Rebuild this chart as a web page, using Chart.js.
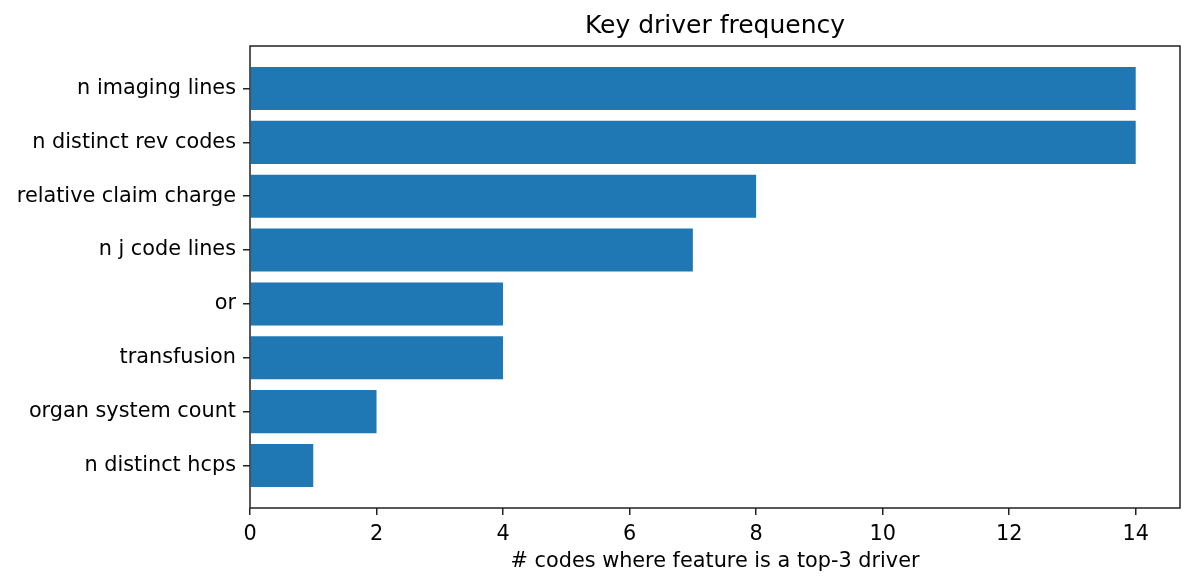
<!DOCTYPE html>
<html>
<head>
<meta charset="utf-8">
<script src="https://cdn.jsdelivr.net/npm/chart.js@4"></script>
<style>
  html, body { margin: 0; padding: 0; background: #fff; }
  #wrap { width: 1194px; height: 586px; }
</style>
</head>
<body>
<div id="wrap"><canvas id="chart" width="1194" height="586"></canvas></div>
<script>
// ===== Data =====
const categories = [
    'n imaging lines',
    'n distinct rev codes',
    'relative claim charge',
    'n j code lines',
    'or',
    'transfusion',
    'organ system count',
    'n distinct hcps'
];
const counts = [14, 14, 8, 7, 4, 4, 2, 1];
const xTicks = [0, 2, 4, 6, 8, 10, 12, 14];

const barColor = '#1f77b4';
const axisColor = '#222222';
const font = 'DejaVu Sans';
const titleText = 'Key driver frequency';

// box round the plot area (matplotlib spines) and the title centred over it
const frame = {
    id: 'frame',
    afterDatasetsDraw(chart) {
        const a = chart.chartArea;
        const ctx = chart.ctx;
        ctx.save();
        ctx.strokeStyle = axisColor;
        ctx.lineWidth = 1.5;
        ctx.strokeRect(a.left, a.top, a.right - a.left, a.bottom - a.top);
        ctx.fillStyle = '#000';
        ctx.font = '25px "' + font + '"';
        ctx.textAlign = 'center';
        ctx.textBaseline = 'middle';
        ctx.fillText(titleText, (a.left + a.right) / 2, 26);
        ctx.restore();
    }
};

new Chart(document.getElementById('chart'), {
    type: 'bar',
    data: {
        datasets: [{
            data: counts.map((v, i) => ({ x: v, y: i })),
            backgroundColor: barColor,
            borderWidth: 0,
            barPercentage: 0.8,
            categoryPercentage: 1.0
        }]
    },
    options: {
        indexAxis: 'y',
        responsive: false,
        animation: false,
        devicePixelRatio: 1,
        layout: { padding: { left: 0, right: 14, top: 46, bottom: 0 } },
        plugins: {
            legend: { display: false },
            tooltip: { enabled: false },
            title: { display: false }
        },
        scales: {
            x: {
                type: 'linear',
                min: 0,
                max: 14.7,
                afterBuildTicks: s => { s.ticks = xTicks.map(v => ({ value: v })); },
                afterFit: s => { s.height = 78; },
                ticks: {
                    color: '#000',
                    padding: 7,
                    maxRotation: 0,
                    font: { family: font, size: 20.8 }
                },
                grid: { drawOnChartArea: false, drawTicks: true, tickLength: 7, color: axisColor, lineWidth: 1.5 },
                border: { display: false },
                title: {
                    display: true,
                    text: '# codes where feature is a top-3 driver',
                    color: '#000',
                    font: { family: font, size: 20.8 },
                    padding: { top: 0, bottom: 12 }
                }
            },
            y: {
                type: 'linear',
                reverse: true,
                offset: false,
                min: -0.79,
                max: 7.79,
                afterBuildTicks: s => { s.ticks = categories.map((c, i) => ({ value: i })); },
                afterFit: s => { s.width = 250; },
                ticks: {
                    color: '#000',
                    padding: 7,
                    autoSkip: false,
                    font: { family: font, size: 20.8 },
                    callback: v => categories[v]
                },
                grid: { offset: false, drawOnChartArea: false, drawTicks: true, tickLength: 7, color: axisColor, lineWidth: 1.5 },
                border: { display: false }
            }
        }
    },
    plugins: [frame]
});
</script>
</body>
</html>
